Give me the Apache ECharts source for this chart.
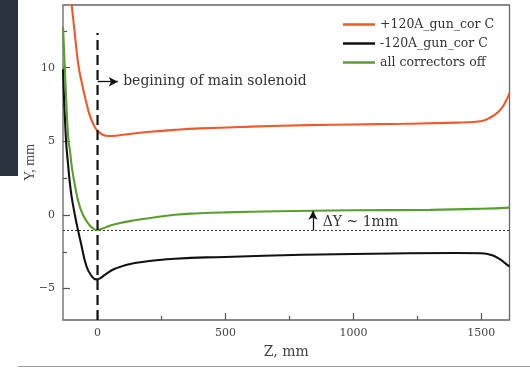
<!DOCTYPE html>
<html>
<head>
<meta charset="utf-8">
<script src="https://cdn.jsdelivr.net/npm/echarts@6/dist/echarts.min.js"></script>
<style>
html,body{margin:0;padding:0;background:#fff;}
#chart{width:530px;height:368px;}
</style>
</head>
<body>
<div id="chart"></div>
<script>
// ---- data ----
const zOrange = [-115, -101, -89, -75, -60, -46, -30, -10, 0, 20, 45, 80, 150, 204, 300, 400, 600, 829, 1000, 1200, 1400, 1480, 1533, 1572, 1595, 1610];
const yOrange = [16.5, 14.26, 12.34, 10.2, 8.85, 7.8, 6.75, 5.95, 5.72, 5.45, 5.36, 5.4, 5.55, 5.65, 5.78, 5.88, 6.0, 6.1, 6.15, 6.2, 6.27, 6.33, 6.6, 7.1, 7.7, 8.3];

const zBlack = [-135, -124, -115, -105, -95, -82, -65, -43, -25, -5, 10, 30, 68, 146, 302, 500, 800, 1000, 1400, 1500, 1540, 1572, 1595, 1610];
const yBlack = [9.9, 5.3, 3.4, 1.7, 0.6, -0.57, -1.9, -3.5, -4.1, -4.37, -4.3, -4.05, -3.65, -3.26, -2.97, -2.85, -2.7, -2.65, -2.58, -2.6, -2.72, -3.0, -3.3, -3.5];

const zGreen = [-135, -124, -114, -108, -100, -85, -70, -55, -37, -20, -3, 20, 50, 100, 146, 200, 302, 400, 500, 700, 842, 1000, 1300, 1500, 1610];
const yGreen = [12.8, 8.4, 5.1, 4.4, 3.2, 1.7, 0.6, -0.05, -0.57, -0.88, -1.02, -0.92, -0.72, -0.5, -0.36, -0.22, 0.02, 0.12, 0.18, 0.25, 0.29, 0.32, 0.35, 0.42, 0.5];

const seriesNames = ['+120A_gun_cor C', '-120A_gun_cor C', 'all correctors off'];

const xMin = -135, xMax = 1610;
const yMin = -7.13, yMax = 14.26;
const xTickLabels = [0, 500, 1000, 1500];
const xMinorTicks = [250, 750, 1250];
const yTickLabels = [-5, 0, 5, 10];
const yMinorTicks = [-2.5, 2.5, 7.5, 12.5];

const solenoidZ = 0;           // dashed vertical line
const solenoidTop = 12.36;
const refLevel = -1.05;        // dotted horizontal line
const solenoidArrow = [[0, 9.05], [79, 9.05]];
const solenoidText = 'begining of main solenoid';
const solenoidTextPos = [100, 9.05];
const dyArrow = [[842, -1.05], [842, 0.29]];
const dyText = 'ΔY ~ 1mm';
const dyTextPos = [880, -0.52];

// ---- build ----
const pairs = (xs, ys) => xs.map((x, i) => [x, ys[i]]);
const serif = 'DejaVu Serif';
const fmt = v => String(v).replace('-', '\u2212');

const chart = echarts.init(document.getElementById('chart'), null, {renderer: 'canvas'});

const curve = (name, xs, ys, color) => ({
  name, type: 'line', data: pairs(xs, ys), showSymbol: false, symbol: 'none',
  smooth: true, clip: true,
  lineStyle: {color, width: 2.1}, itemStyle: {color}, z: 3
});

const tickStyle = {color: '#555', width: 1.2};

const option = {
  backgroundColor: '#ffffff',
  animation: false,
  grid: {left: 63, right: 20.5, top: 5, bottom: 48, show: true, borderColor: '#666', borderWidth: 1.3, backgroundColor: 'transparent'},
  legend: {
    left: 338, top: 12, orient: 'vertical', icon: 'rect', itemWidth: 32, itemHeight: 2.5, itemGap: 4,
    textStyle: {fontFamily: serif, fontSize: 12.5, color: '#333', lineHeight: 15},
    data: seriesNames
  },
  xAxis: [{
    type: 'value', min: xMin, max: xMax, position: 'bottom',
    name: 'Z, mm', nameLocation: 'middle', nameGap: 25, nameMoveOverlap: false,
    nameTextStyle: {fontFamily: serif, fontSize: 14, color: '#444'},
    axisLine: {show: false, onZero: false}, splitLine: {show: false},
    axisTick: {show: true, inside: true, length: 7, customValues: xTickLabels, lineStyle: tickStyle},
    axisLabel: {customValues: xTickLabels, fontFamily: serif, fontSize: 11, color: '#444', margin: 8, formatter: fmt}
  }, {
    type: 'value', min: xMin, max: xMax, position: 'bottom',
    axisLine: {show: false, onZero: false}, splitLine: {show: false}, axisLabel: {show: false},
    axisTick: {show: true, inside: true, length: 4, customValues: xMinorTicks, lineStyle: tickStyle}
  }],
  yAxis: [{
    type: 'value', min: yMin, max: yMax, position: 'left',
    name: 'Y, mm', nameLocation: 'middle', nameGap: 26, nameRotate: 90, nameMoveOverlap: false,
    nameTextStyle: {fontFamily: 'Liberation Serif', fontSize: 14, color: '#444'},
    axisLine: {show: false, onZero: false}, splitLine: {show: false},
    axisTick: {show: true, inside: true, length: 7, customValues: yTickLabels, lineStyle: tickStyle},
    axisLabel: {customValues: yTickLabels, fontFamily: serif, fontSize: 11, color: '#444', margin: 8, formatter: fmt}
  }, {
    type: 'value', min: yMin, max: yMax, position: 'left',
    axisLine: {show: false, onZero: false}, splitLine: {show: false}, axisLabel: {show: false},
    axisTick: {show: true, inside: true, length: 4, customValues: yMinorTicks, lineStyle: tickStyle}
  }],
  series: [
    curve(seriesNames[0], zOrange, yOrange, '#ef5a2a'),
    curve(seriesNames[1], zBlack, yBlack, '#111111'),
    curve(seriesNames[2], zGreen, yGreen, '#5a9e2f'),
    {
      type: 'line', data: [[xMin, refLevel], [xMax, refLevel]], showSymbol: false, symbol: 'none',
      lineStyle: {color: '#333', width: 1, type: [2, 2]}, z: 2, silent: true,
      markLine: {
        silent: true, symbol: ['none', 'arrow'], symbolSize: [7, 9], animation: false,
        lineStyle: {color: '#111', type: 'solid', width: 1.3}, label: {show: false},
        data: [
          [{coord: solenoidArrow[0]}, {coord: solenoidArrow[1]}],
          [{coord: dyArrow[0]}, {coord: dyArrow[1]}]
        ]
      }
    },
    {
      type: 'line', data: [[solenoidZ, yMin], [solenoidZ, solenoidTop]], showSymbol: false, symbol: 'none',
      lineStyle: {color: '#111', width: 2.2, type: [10, 5]}, z: 4, silent: true
    }
  ]
};
chart.setOption(option);

const p1 = chart.convertToPixel({gridIndex: 0}, solenoidTextPos);
const p2 = chart.convertToPixel({gridIndex: 0}, dyTextPos);
chart.setOption({
  graphic: [
    {type: 'rect', shape: {x: 0, y: 0, width: 18, height: 176}, style: {fill: '#2c3340'}, silent: true, z: -1},
    {type: 'line', shape: {x1: 18, y1: 366.5, x2: 530, y2: 366.5}, style: {stroke: '#999', lineWidth: 1}, silent: true},
    {type: 'text', x: p1[0], y: p1[1], style: {text: solenoidText, fontFamily: serif, fontSize: 14, fill: '#333', verticalAlign: 'middle'}, silent: true},
    {type: 'text', x: p2[0], y: p2[1], style: {text: dyText, fontFamily: serif, fontSize: 14, fill: '#333', verticalAlign: 'middle'}, silent: true}
  ]
});
</script>
</body>
</html>
